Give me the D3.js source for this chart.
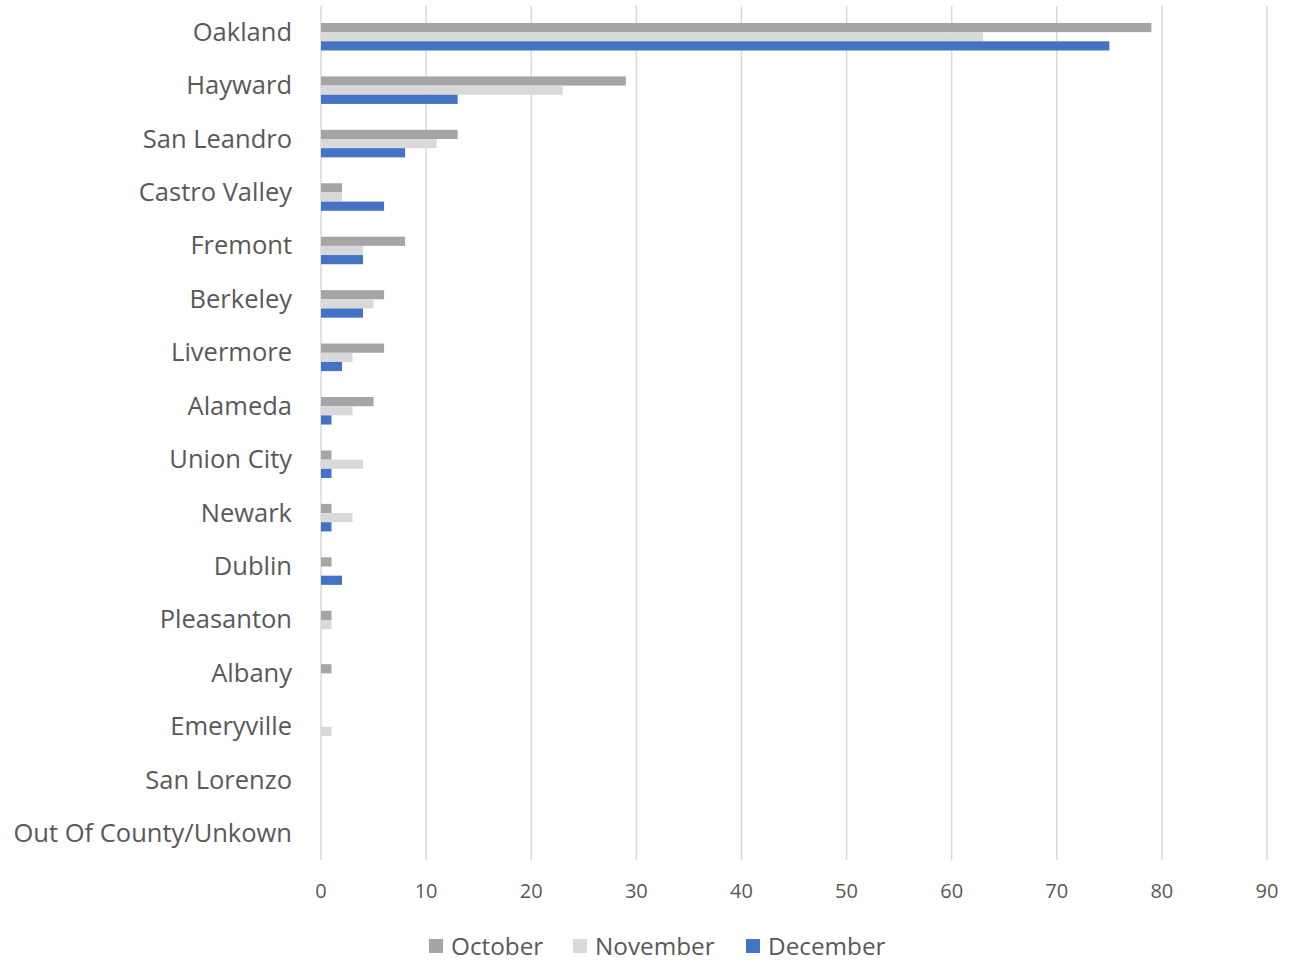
<!DOCTYPE html>
<html>
<head>
<meta charset="utf-8">
<script src="https://cdn.jsdelivr.net/npm/d3@7"></script>
<style>
  body { margin: 0; background: #fff; }
  text { font-family: "Open Sans", "Noto Sans", sans-serif; fill: #595959; }
</style>
</head>
<body>
<div id="chart"></div>
<script>
var cities = ["Oakland", "Hayward", "San Leandro", "Castro Valley", "Fremont", "Berkeley",
    "Livermore", "Alameda", "Union City", "Newark", "Dublin", "Pleasanton", "Albany",
    "Emeryville", "San Lorenzo", "Out Of County/Unkown"];
var october  = [79, 29, 13, 2, 8, 6, 6, 5, 1, 1, 1, 1, 1, 0, 0, 0];
var november = [63, 23, 11, 2, 4, 5, 3, 3, 4, 3, 0, 1, 0, 1, 0, 0];
var december = [75, 13, 8, 6, 4, 4, 2, 1, 1, 1, 2, 0, 0, 0, 0, 0];
var seriesNames = ["October", "November", "December"];
var xTicks = [0, 10, 20, 30, 40, 50, 60, 70, 80, 90];

var colors = { October: "#A5A5A5", November: "#D9D9D9", December: "#4472C4" };

var width = 1294, height = 962;
var svg = d3.select("#chart").append("svg")
    .attr("width", width)
    .attr("height", height);

var xScale = d3.scaleLinear()
    .domain([0, 90])
    .range([321, 1267]);

var yScale = d3.scaleBand()
    .domain(cities)
    .range([10, 865])
    .paddingInner(0.485)
    .paddingOuter(0.2425);

var sub = d3.scaleBand()
    .domain(seriesNames)
    .range([0, yScale.bandwidth()]);

// gridlines
svg.append("g")
    .attr("class", "grid")
    .selectAll("line")
    .data(xTicks)
    .enter()
    .append("line")
    .attr("x1", function (d) { return xScale(d); })
    .attr("x2", function (d) { return xScale(d); })
    .attr("y1", 6)
    .attr("y2", 860)
    .attr("stroke", "#D9D9D9")
    .attr("stroke-width", 1.5);

var rows = cities.map(function (c, i) {
    return { city: c, October: october[i], November: november[i], December: december[i] };
});

var group = svg.selectAll(".city")
    .data(rows)
    .enter()
    .append("g")
    .attr("class", "city")
    .attr("transform", function (d) { return "translate(0," + yScale(d.city) + ")"; });

group.selectAll("rect")
    .data(function (d) {
        return seriesNames.map(function (s) { return { s: s, v: d[s] }; });
    })
    .enter()
    .append("rect")
    .attr("x", xScale(0))
    .attr("y", function (d) { return sub(d.s); })
    .attr("width", function (d) { return xScale(d.v) - xScale(0); })
    .attr("height", sub.bandwidth())
    .attr("fill", function (d) { return colors[d.s]; });

// category labels
svg.append("g")
    .selectAll("text")
    .data(cities)
    .enter()
    .append("text")
    .attr("x", 292)
    .attr("y", function (d) { return yScale(d) + yScale.bandwidth() / 2 - 5; })
    .attr("dy", "0.35em")
    .attr("text-anchor", "end")
    .style("font-size", "25.5px")
    .text(function (d) { return d; });

// x axis tick labels
svg.append("g")
    .selectAll("text")
    .data(xTicks)
    .enter()
    .append("text")
    .attr("x", function (d) { return xScale(d); })
    .attr("y", 891)
    .attr("dy", "0.35em")
    .attr("text-anchor", "middle")
    .style("font-size", "20px")
    .text(function (d) { return d; });

// legend
var legendX = [429, 573, 746];
var legend = svg.append("g")
    .selectAll("g")
    .data(seriesNames)
    .enter()
    .append("g")
    .attr("transform", function (d, i) { return "translate(" + legendX[i] + ",939)"; });

legend.append("rect")
    .attr("width", 14)
    .attr("height", 14)
    .attr("fill", function (d) { return colors[d]; });

legend.append("text")
    .attr("x", 22)
    .attr("y", 7)
    .attr("dy", "0.35em")
    .style("font-size", "24.3px")
    .text(function (d) { return d; });
</script>
</body>
</html>
